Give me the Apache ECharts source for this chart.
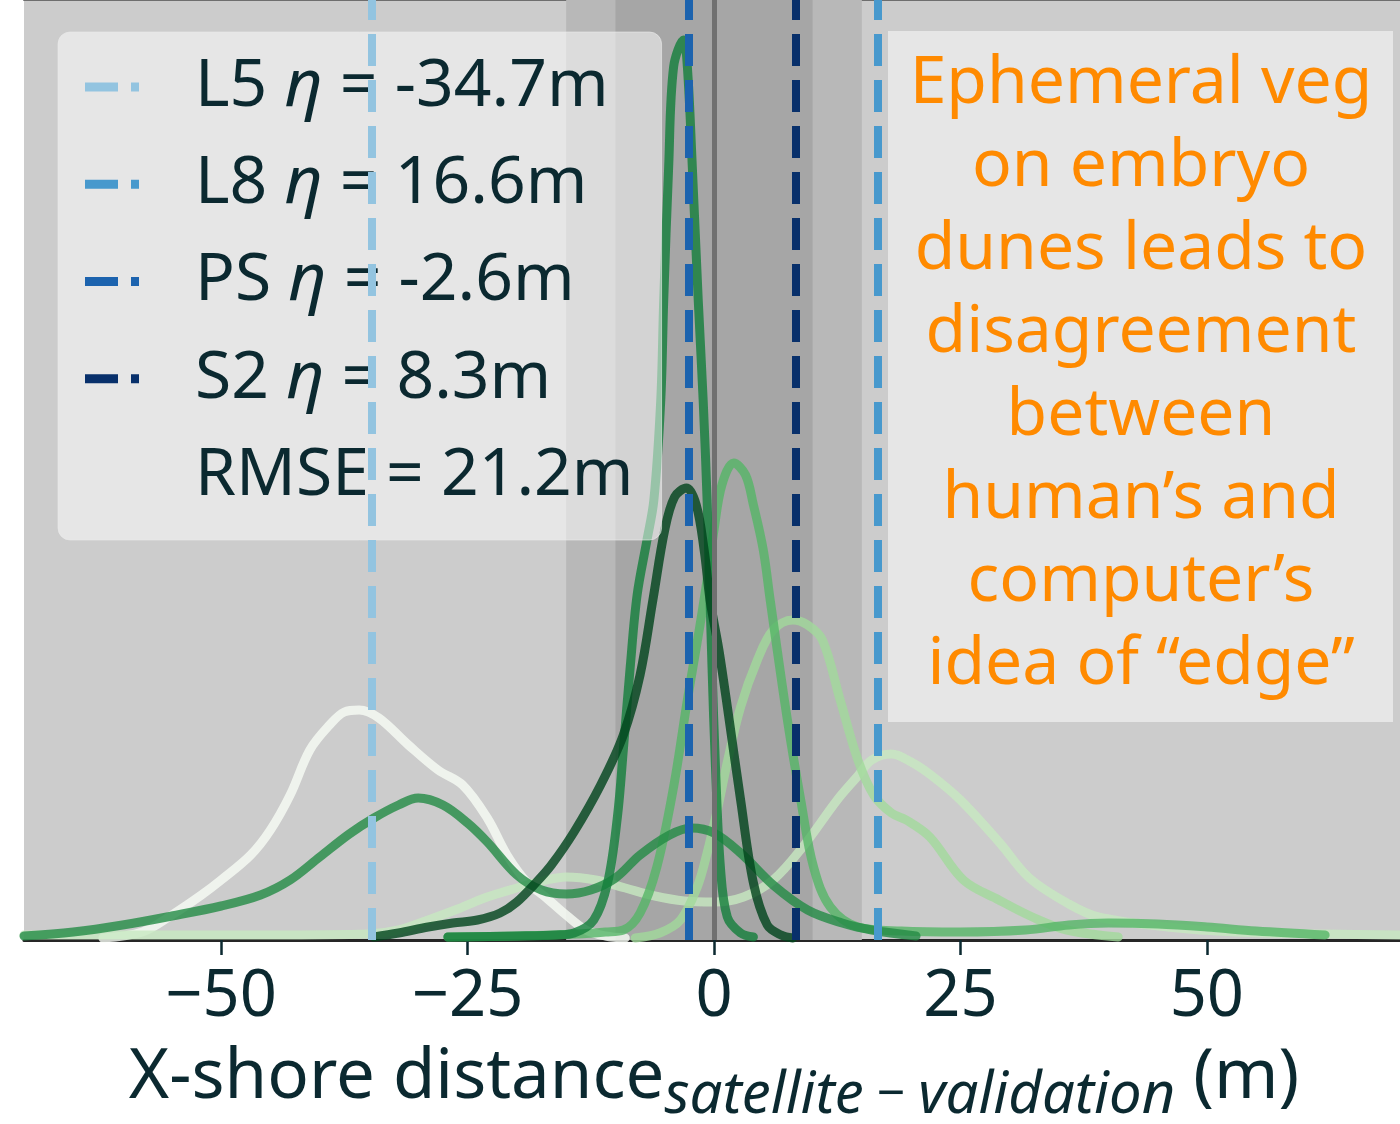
<!DOCTYPE html>
<html>
<head>
<meta charset="utf-8">
<script src="https://cdn.jsdelivr.net/npm/echarts@6/dist/echarts.min.js"></script>
<style>html,body{margin:0;padding:0;background:#ffffff}#chart{width:1400px;height:1124px}</style>
</head>
<body>
<div id="chart"></div>
<script>
// ---------- data ----------
const tickValues = [-50, -25, 0, 25, 50];
const satNames = ['L5', 'L8', 'PS', 'S2'];
const satBias = [-34.7, 16.6, -2.6, 8.3];
const rmseValue = 21.2;
const bandOuter = [-15, 15];
const bandInner = [-10, 10];
const annotationLines = ['Ephemeral veg', 'on embryo', 'dunes leads to', 'disagreement', 'between', 'human’s and', 'computer’s', 'idea of “edge”'];

// KDE curves: [x (m), density]
const curveA = [[-62,0.0002],[-58,0.0008],[-55,0.0025],[-52,0.0045],[-50,0.006],[-47,0.0085],[-45,0.011],[-43,0.0145],[-41,0.019],[-39,0.0215],[-37.5,0.0228],[-36,0.023],[-34,0.0222],[-31,0.0195],[-28,0.017],[-25.5,0.0155],[-23,0.0122],[-21,0.0085],[-19,0.0058],[-17,0.0042],[-15,0.0025],[-13,0.001],[-11,0.0004],[-9,0.0002]];
const curveB = [[-70,0.0004],[-65,0.0008],[-60,0.0015],[-55,0.0024],[-50,0.0034],[-46,0.0045],[-43,0.006],[-40,0.0083],[-37,0.0106],[-34.5,0.0122],[-32,0.0135],[-30,0.0142],[-27.5,0.0135],[-25,0.0117],[-23,0.0098],[-20,0.0065],[-17.5,0.005],[-15,0.0046],[-12.5,0.005],[-10,0.0062],[-7.5,0.0085],[-4.5,0.0105],[-2.3,0.0112],[0,0.0107],[2.7,0.0087],[6,0.0055],[9.5,0.003],[13,0.0017],[16,0.001],[20.5,0.0004]];
const curveC = [[-70,0.0005],[-45,0.0005],[-35,0.0006],[-32,0.001],[-29,0.002],[-26,0.0031],[-23,0.0043],[-20,0.0052],[-17,0.006],[-15,0.0063],[-12,0.006],[-9,0.0052],[-6,0.0044],[-3,0.0039],[0,0.0038],[3,0.0043],[6,0.006],[9,0.0093],[12.5,0.014],[14.5,0.0163],[16,0.018],[18,0.0186],[20,0.0178],[22,0.0165],[25,0.014],[29,0.0097],[32,0.0062],[36,0.0036],[39,0.0023],[46,0.0013],[53,0.0008],[62,0.0006],[70,0.0005]];
const curveD = [[-8,0.0002],[-5.5,0.0007],[-3.4,0.002],[-1.7,0.0053],[-0.7,0.0087],[0.4,0.0133],[1.4,0.018],[2.7,0.0233],[4.4,0.028],[6,0.031],[8,0.032],[9.5,0.0315],[11,0.03],[12.8,0.024],[14.6,0.018],[16.2,0.0145],[18,0.0127],[19.5,0.012],[21.9,0.0103],[25.3,0.006],[28.9,0.004],[32.3,0.0023],[35.8,0.001],[41,0.0003]];
const curveE = [[-27,0.0003],[-20,0.0004],[-14,0.0006],[-11,0.0008],[-9.2,0.001],[-7.5,0.0027],[-5.8,0.0073],[-4.1,0.0153],[-2.7,0.024],[-1.5,0.031],[-0.7,0.036],[0,0.041],[0.8,0.0455],[2,0.0477],[3.2,0.0465],[4,0.0435],[5,0.039],[5.7,0.034],[7.4,0.0223],[8.8,0.014],[10.1,0.0073],[11.8,0.0033],[14.6,0.0013],[19,0.0009],[25,0.0008],[31.6,0.001],[36,0.0015],[40,0.0017],[45,0.0016],[50,0.0013],[55,0.0009],[62,0.0005]];
const curveF = [[-27,0.0003],[-20,0.0004],[-16,0.0005],[-14.2,0.0007],[-12.2,0.002],[-10.8,0.0057],[-9.8,0.0123],[-9.2,0.019],[-8.5,0.0273],[-7.8,0.0345],[-6.8,0.040],[-6.1,0.044],[-5.4,0.054],[-5.1,0.064],[-4.6,0.0773],[-4.1,0.0873],[-3.1,0.090],[-2.7,0.0873],[-2.2,0.0773],[-1.6,0.064],[-1.1,0.054],[-0.7,0.044],[-0.4,0.034],[-0.2,0.0273],[0.15,0.0173],[0.65,0.0073],[1.35,0.0023],[2.7,0.0007],[4,0.0003]];
const curveG = [[-34.5,0.0003],[-32,0.0007],[-29,0.0013],[-26.5,0.0017],[-24,0.002],[-21.7,0.0027],[-20,0.0038],[-18,0.0058],[-16.5,0.0075],[-14.2,0.0108],[-11.5,0.0155],[-9.2,0.0205],[-7.5,0.0265],[-6.2,0.034],[-5,0.041],[-4,0.0443],[-2.8,0.0452],[-1.8,0.0435],[-1,0.039],[-0.4,0.034],[0.5,0.029],[1.4,0.023],[2.7,0.014],[4,0.0057],[5.4,0.0015],[6.8,0.0005],[8,0.0002]];

const curves = [curveA, curveC, curveD, curveE, curveB, curveF, curveG];
const curveColors = ['#f7fcf5', '#c7e9c0', '#a1d99b', '#55b567', '#238b45', '#137e3b', '#00441b'];
const satColors = ['#93c4e0', '#4899cd', '#1c63ae', '#08306b'];

// ---------- styles ----------
const FONT = '"Noto Sans"';
const TXT = '#0b2930';

const series = [];
series.push({
  name: 'bands', type: 'line', data: [], silent: true, z: 1,
  markArea: {
    silent: true,
    data: [
      [{ xAxis: bandOuter[0], itemStyle: { color: '#b8b8b8' } }, { xAxis: bandOuter[1] }],
      [{ xAxis: bandInner[0], itemStyle: { color: '#a6a6a6' } }, { xAxis: bandInner[1] }]
    ]
  },
  markLine: {
    silent: true, symbol: 'none', label: { show: false },
    lineStyle: { type: 'solid', color: '#707070', width: 5 },
    data: [{ xAxis: 0 }]
  }
});
curves.forEach((c, i) => {
  series.push({
    type: 'line', data: c, smooth: 0.35, showSymbol: false, silent: true, z: 2,
    lineStyle: { color: curveColors[i], width: 9, opacity: 0.8, cap: 'round', join: 'round' }
  });
});
satNames.forEach((n, i) => {
  series.push({
    name: n, type: 'line', data: [], z: 3,
    itemStyle: { color: satColors[i] },
    lineStyle: { color: satColors[i] },
    markLine: {
      silent: true, symbol: 'none', label: { show: false },
      lineStyle: { type: [32, 14], width: 8, color: satColors[i], opacity: 1 },
      data: [{ xAxis: satBias[i] }]
    }
  });
});
series.push({ name: 'RMSE', type: 'line', data: [], itemStyle: { color: 'rgba(0,0,0,0)' } });

const legendData = satNames.map(n => ({ name: n, icon: 'path://M0,0H33V9H0Z M46,0H54V9H46Z' }));
legendData.push({ name: 'RMSE', icon: 'none' });

const option = {
  animation: false,
  backgroundColor: '#ffffff',
  grid: { left: 24, right: -4, top: 0, bottom: 184, show: true, backgroundColor: '#cccccc', borderWidth: 0,
          containLabel: false, outerBoundsMode: 'none' },
  xAxis: [{
    type: 'value', min: -70, max: 70, position: 'bottom',
    axisLine: { show: true, lineStyle: { color: '#262626', width: 3 } },
    axisTick: { show: true, customValues: tickValues, length: 15, lineStyle: { color: TXT, width: 2.5 } },
    axisLabel: {
      customValues: tickValues, margin: 25, fontSize: 65, fontFamily: FONT, color: TXT,
      formatter: v => (v < 0 ? '\u2212' + Math.abs(v) : String(v))
    },
    splitLine: { show: false },
    name: '{a|X-shore distance}{s|satellite}{m| \u2212 }{s|validation}{a| (m)}',
    nameLocation: 'middle', nameGap: 91,
    nameTextStyle: {
      rich: {
        a: { fontSize: 69, fontFamily: FONT, color: TXT },
        s: { fontSize: 58, fontFamily: FONT, fontStyle: 'italic', color: TXT, padding: [36, 0, 0, 0] },
        m: { fontSize: 50, fontFamily: FONT, color: TXT, padding: [36, 0, 0, 0] }
      }
    }
  }, {
    type: 'value', min: -70, max: 70, position: 'top',
    axisLine: { show: true, lineStyle: { color: '#6e6e6e', width: 2 } },
    axisTick: { show: false }, axisLabel: { show: false }, splitLine: { show: false }
  }],
  yAxis: {
    type: 'value', min: 0, max: 0.094,
    axisLine: { show: true, lineStyle: { color: '#262626', width: 3 } },
    axisTick: { show: false }, axisLabel: { show: false }, splitLine: { show: false }
  },
  legend: {
    data: legendData, orient: 'vertical', left: 58, top: 32,
    selectedMode: false,
    itemWidth: 54, itemHeight: 9, itemGap: 31.25,
    padding: [22, 28, 31, 27],
    backgroundColor: 'rgba(255,255,255,0.5)', borderRadius: 12,
    borderColor: 'rgba(235,235,235,0.6)', borderWidth: 1,
    formatter: name => {
      if (name === 'RMSE') return '{g| }{t|RMSE = ' + rmseValue + 'm}';
      const i = satNames.indexOf(name);
      return '{g| }{t|' + name + ' }{i|\u03b7}{t| = ' + satBias[i] + 'm}';
    },
    textStyle: {
      rich: {
        g: { width: 51, fontSize: 64, lineHeight: 66 },
        t: { fontSize: 66, fontFamily: FONT, color: TXT, lineHeight: 66 },
        i: { fontSize: 66, fontFamily: FONT, fontStyle: 'italic', color: TXT, lineHeight: 66 }
      }
    }
  },
  graphic: [{
    type: 'rect', left: 888, top: 31, z: 100,
    shape: { width: 505, height: 691 },
    style: { fill: 'rgba(255,255,255,0.5)' }
  }, {
    type: 'text', x: 1141, y: 43, z: 101,
    style: {
      text: annotationLines.join('\n'), fill: '#ff8a00',
      font: '66px ' + FONT, lineHeight: 83, align: 'center', verticalAlign: 'top'
    }
  }],
  series: series
};

const chart = echarts.init(document.getElementById('chart'), null, { renderer: 'canvas' });
chart.setOption(option);
</script>
</body>
</html>
